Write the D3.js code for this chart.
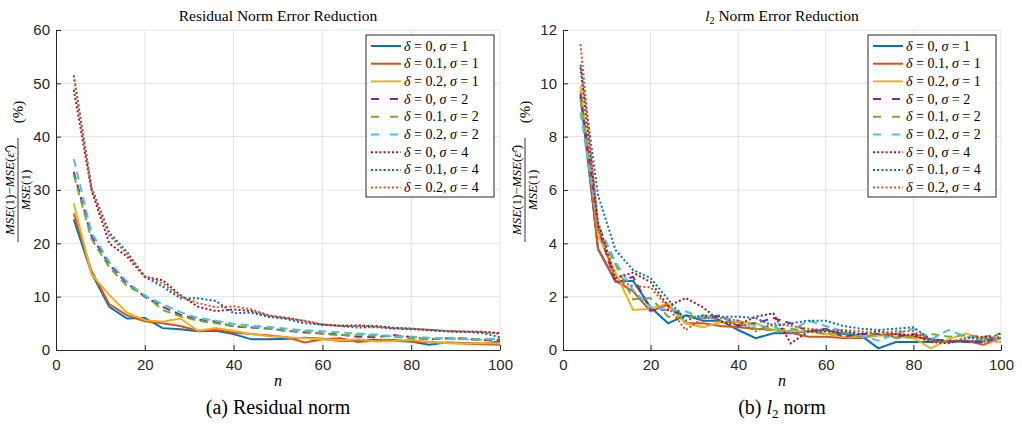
<!DOCTYPE html>
<html><head><meta charset="utf-8">
<script src="https://cdn.jsdelivr.net/npm/d3@7"></script>
<style>body{margin:0;background:#fff}</style>
</head><body><svg id="c" width="1022" height="425"></svg>
<script>
const nVals = [4,8,12,16,20,24,28,32,36,40,44,48,52,56,60,64,68,72,76,80,84,88,92,96,100];
const seriesNames = ["δ0σ1","δ0.1σ1","δ0.2σ1","δ0σ2","δ0.1σ2","δ0.2σ2","δ0σ4","δ0.1σ4","δ0.2σ4"];
const deltaLabels = ["0","0.1","0.2","0","0.1","0.2","0","0.1","0.2"];
const sigmaLabels = ["1","1","1","2","2","2","4","4","4"];
const colors = ["#0072BD","#D95319","#EDB120","#7E2F8E","#77AC30","#4DBEEE","#A2142F","#0072BD","#D95319"];
const styles = ["solid","solid","solid","dash","dash","dash","dot","dot","dot"];

// Residual norm
const resS1 = [24.5,14.4,8.1,5.9,6.0,4.1,3.9,3.5,3.6,3.0,2.0,2.0,2.1,2.3,2.1,1.7,1.8,1.9,1.7,1.6,1.0,1.4,1.3,1.2,1.6];
const resS2 = [25.6,14.8,8.6,6.5,5.4,5.0,4.5,3.6,3.8,3.3,3.0,2.7,2.4,1.4,2.0,2.2,1.5,1.8,1.9,1.6,1.5,1.3,1.2,1.1,1.0];
const resS3 = [27.5,14.2,10.3,7.0,5.6,5.3,5.9,3.6,4.1,3.6,3.0,2.6,2.4,2.2,2.0,1.8,2.0,1.6,1.7,1.9,1.5,1.3,1.2,1.3,1.2];
const resD1 = [33.4,21.3,16.0,12.5,10.0,8.1,6.6,5.7,5.3,4.4,4.2,4.0,3.6,3.3,3.1,2.9,2.5,2.4,2.8,2.4,2.0,2.2,2.1,1.8,1.9];
const resD2 = [32.8,20.8,15.5,12.0,10.3,7.5,6.3,5.5,5.0,4.5,4.3,4.0,3.5,3.5,3.0,2.8,2.9,2.7,2.5,2.2,2.0,2.2,2.2,2.0,2.2];
const resD3 = [35.8,22.0,16.5,12.8,10.2,8.6,7.1,6.0,5.5,4.9,4.6,4.3,4.0,3.7,3.5,3.3,3.1,2.9,2.6,2.5,2.3,2.2,2.0,1.9,2.1];
const resO1 = [48.8,30.0,20.0,17.5,13.7,13.1,10.3,8.1,7.3,7.6,7.3,6.4,6.0,5.4,4.7,4.6,4.6,4.5,4.2,4.0,3.7,3.5,3.4,3.4,3.2];
const resO2 = [51.5,30.5,22.0,18.4,13.7,11.9,9.7,9.7,9.2,6.9,7.0,6.2,5.8,5.0,4.8,4.5,4.2,4.3,4.0,3.9,3.8,3.5,3.4,3.2,2.4];
const resO3 = [51.5,30.2,21.5,18.0,13.9,12.5,10.0,8.8,8.0,8.2,7.6,6.5,6.0,5.5,4.8,4.5,4.5,4.4,4.1,4.0,3.8,3.6,3.5,3.4,3.0];

// l2 norm
const l2S1 = [9.5,3.78,2.56,2.6,1.6,1.0,1.3,1.1,1.1,0.75,0.44,0.63,0.63,0.7,0.75,0.6,0.55,0.06,0.3,0.3,0.3,0.35,0.3,0.35,0.45];
const l2S2 = [9.7,3.8,2.6,2.2,1.45,1.7,1.0,1.0,0.9,0.85,0.8,0.75,0.65,0.5,0.5,0.45,0.45,0.55,0.6,0.5,0.4,0.3,0.35,0.2,0.45];
const l2S3 = [9.9,4.3,2.9,1.5,1.55,1.75,1.0,0.85,1.05,1.05,1.0,0.75,0.7,0.7,0.6,0.5,0.5,0.55,0.5,0.45,0.06,0.4,0.63,0.35,0.3];
const l2D1 = [9.6,4.6,2.5,2.75,1.5,1.5,1.3,1.2,1.3,0.9,1.0,1.2,1.0,0.7,0.8,0.5,0.6,0.6,0.5,0.6,0.4,0.35,0.3,0.3,0.45];
const l2D2 = [9.4,4.5,3.2,1.9,1.95,1.25,1.2,1.3,1.1,1.0,0.8,0.75,0.8,0.7,0.6,0.65,0.5,0.6,0.45,0.5,0.6,0.5,0.55,0.5,0.6];
const l2D3 = [8.9,4.7,3.3,2.25,1.6,1.5,1.45,1.2,1.2,1.1,0.9,0.85,0.7,1.1,0.9,0.7,0.55,0.35,0.6,0.8,0.4,0.75,0.5,0.45,0.4];
const l2O1 = [10.6,4.8,2.7,2.9,2.55,1.65,1.95,1.6,1.06,0.94,1.25,1.375,0.25,0.69,0.69,0.7,0.6,0.7,0.6,0.56,0.3,0.25,0.44,0.5,0.44];
const l2O2 = [10.7,5.8,3.75,3.0,2.7,1.9,1.1,1.3,1.25,1.25,1.2,0.9,1.0,1.1,1.1,0.9,0.8,0.75,0.8,0.85,0.4,0.3,0.35,0.3,0.65];
const l2O3 = [11.47,4.6,2.6,2.4,2.35,1.6,0.75,1.2,1.2,1.1,0.7,1.0,0.9,0.8,0.75,0.75,0.7,0.6,0.7,0.7,0.35,0.3,0.45,0.4,0.5];

const xTicks = [0,20,40,60,80,100];
const resYTicks = [0,10,20,30,40,50,60];
const l2YTicks = [0,2,4,6,8,10,12];

const svg = d3.select("#c");
const axisCol = "#262626";
const dashMap = {solid:null, dash:"8,5", dot:"2,2.2"};

function panel(opts){
  const {x0,x1,y0,y1,ymax,yTicks,data,titleFn,capFn,legendX} = opts;
  const x = d3.scaleLinear().domain([0,100]).range([x0,x1]);
  const y = d3.scaleLinear().domain([0,ymax]).range([y1,y0]);
  const g = svg.append("g");
  g.append("g").selectAll("line").data(xTicks.slice(1)).join("line")
    .attr("x1",d=>x(d)).attr("x2",d=>x(d)).attr("y1",y0).attr("y2",y1)
    .attr("stroke","#e3e3e3").attr("stroke-width",1);
  g.append("g").selectAll("line").data(yTicks.slice(1)).join("line")
    .attr("x1",x0).attr("x2",x1).attr("y1",d=>y(d)).attr("y2",d=>y(d))
    .attr("stroke","#e3e3e3").attr("stroke-width",1);
  const ax = g.append("g").attr("transform",`translate(0,${y1})`)
    .call(d3.axisBottom(x).tickValues(xTicks).tickSizeInner(-5).tickSizeOuter(0).tickPadding(9));
  const ay = g.append("g").attr("transform",`translate(${x0},0)`)
    .call(d3.axisLeft(y).tickValues(yTicks).tickSizeInner(-5).tickSizeOuter(0).tickPadding(6));
  [ax,ay].forEach(a=>{
    a.select(".domain").attr("stroke",axisCol).attr("stroke-width",1);
    a.selectAll(".tick line").attr("stroke",axisCol);
    a.selectAll("text").attr("fill",axisCol).style("font-family","'Liberation Sans',Arial,sans-serif").style("font-size","15px");
  });
  const line = d3.line().x((d,i)=>x(nVals[i])).y(d=>y(d));
  const clip = "clip"+x0;
  svg.append("clipPath").attr("id",clip).append("rect").attr("x",x0).attr("y",y0).attr("width",x1-x0).attr("height",y1-y0);
  g.append("g").attr("clip-path",`url(#${clip})`).selectAll("path").data(data).join("path")
    .attr("d",d=>line(d)).attr("fill","none")
    .attr("stroke",(d,i)=>colors[i]).attr("stroke-width",2)
    .attr("stroke-dasharray",(d,i)=>dashMap[styles[i]]);
  const t = g.append("text").attr("x",(x0+x1)/2).attr("y",21).attr("text-anchor","middle")
    .style("font-family","'Liberation Serif','DejaVu Serif',serif").style("font-size","15.5px").attr("fill","#000");
  titleFn(t);
  g.append("text").attr("x",(x0+x1)/2).attr("y",386).attr("text-anchor","middle")
    .style("font-family","'Liberation Serif',serif").style("font-style","italic").style("font-size","16px").text("n");
  const c = g.append("text").attr("x",(x0+x1)/2).attr("y",414).attr("text-anchor","middle")
    .style("font-family","'Liberation Serif','DejaVu Serif',serif").style("font-size","20px");
  capFn(c);
  const yl = g.append("g").attr("transform",`translate(${x0-35},${(y0+y1)/2}) rotate(-90)`)
    .style("font-family","'Liberation Serif',serif").attr("fill","#000");
  const num = yl.append("text").attr("x",0).attr("y",-7).attr("text-anchor","middle").style("font-size","13px").style("font-style","italic");
  num.append("tspan").text("MSE");
  num.append("tspan").style("font-style","normal").text("(1)−");
  num.append("tspan").text("MSE");
  num.append("tspan").style("font-style","normal").text("(");
  num.append("tspan").text("ε̂");
  num.append("tspan").attr("dy",-4).style("font-size","8px").text("ε");
  num.append("tspan").attr("dy",4).style("font-style","normal").text(")");
  yl.append("line").attr("x1",-52).attr("x2",52).attr("y1",-3).attr("y2",-3).attr("stroke","#000").attr("stroke-width",0.8);
  const den = yl.append("text").attr("x",0).attr("y",9).attr("text-anchor","middle").style("font-size","13px").style("font-style","italic");
  den.append("tspan").text("MSE");
  den.append("tspan").style("font-style","normal").text("(1)");
  yl.append("text").attr("x",78).attr("y",2).attr("text-anchor","middle").style("font-size","15px").text("(%)");
  const lx = legendX, ly = 35, lw = 128, lh = 162;
  const lg = g.append("g");
  lg.append("rect").attr("x",lx).attr("y",ly).attr("width",lw).attr("height",lh)
    .attr("fill","#fff").attr("stroke","#262626").attr("stroke-width",1);
  const rows = lg.selectAll("g.row").data(seriesNames).join("g").attr("class","row")
    .attr("transform",(d,i)=>`translate(${lx},${ly+11+i*17.7})`);
  rows.append("line").attr("x1",5).attr("x2",35).attr("y1",0).attr("y2",0)
    .attr("stroke",(d,i)=>colors[i]).attr("stroke-width",2)
    .attr("stroke-dasharray",(d,i)=>styles[i]==="dash"?"8,11":dashMap[styles[i]]);
  const tx = rows.append("text").attr("x",38).attr("y",4.5)
    .style("font-family","'Liberation Serif',serif").style("font-size","14px");
  tx.each(function(d,i){
    const s = d3.select(this);
    s.append("tspan").style("font-style","italic").text("δ");
    s.append("tspan").text(" = "+deltaLabels[i]+", ");
    s.append("tspan").style("font-style","italic").text("σ");
    s.append("tspan").text(" = "+sigmaLabels[i]);
  });
}

panel({x0:56,x1:500,y0:30,y1:350,ymax:60,yTicks:resYTicks,
  data:[resS1,resS2,resS3,resD1,resD2,resD3,resO1,resO2,resO3],
  titleFn:t=>t.text("Residual Norm Error Reduction"),
  capFn:c=>c.text("(a) Residual norm"),
  legendX:366});
panel({x0:563,x1:1001,y0:30,y1:350,ymax:12,yTicks:l2YTicks,
  data:[l2S1,l2S2,l2S3,l2D1,l2D2,l2D3,l2O1,l2O2,l2O3],
  titleFn:t=>{t.append("tspan").style("font-style","italic").text("l");
    t.append("tspan").attr("dy",3).style("font-size","10px").text("2");
    t.append("tspan").attr("dy",-3).text(" Norm Error Reduction");},
  capFn:c=>{c.append("tspan").text("(b) ");c.append("tspan").style("font-style","italic").text("l");
    c.append("tspan").attr("dy",4).style("font-size","13px").text("2");
    c.append("tspan").attr("dy",-4).text(" norm");},
  legendX:868});
</script></body></html>
